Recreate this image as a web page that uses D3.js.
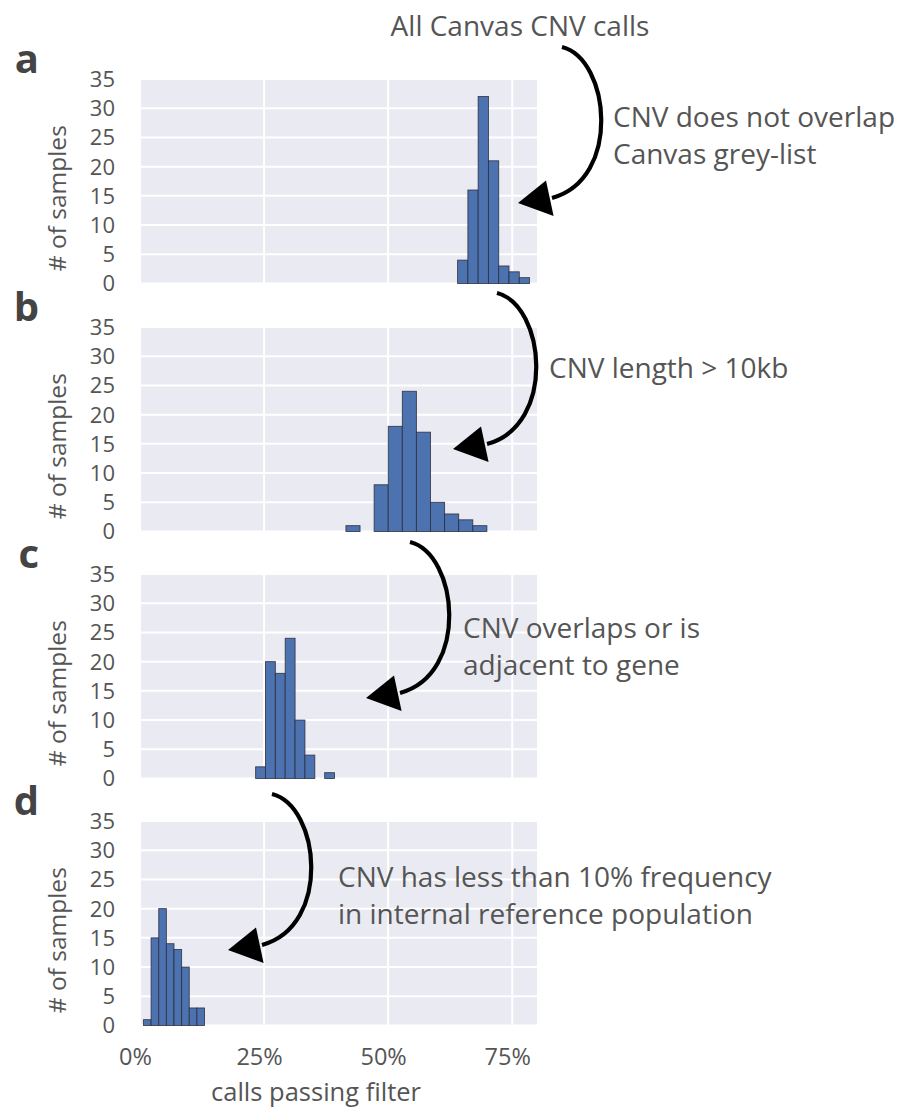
<!DOCTYPE html>
<html>
<head>
<meta charset="utf-8">
<script src="https://cdn.jsdelivr.net/npm/d3@7"></script>
<style>
  html, body { margin: 0; padding: 0; background: #fff; }
  svg { display: block; }
  text { font-family: "Open Sans", "Noto Sans", sans-serif; }
</style>
</head>
<body>
<svg id="chart" width="903" height="1107"></svg>
<script>
// Histogram of the fraction of CNV calls passing each successive filter.
// Each panel: letter, bin range [lo, hi] (fraction of calls), per-bin sample counts.
const panelLetters = ["a", "b", "c", "d"];
const binRanges = [
  [0.640, 0.785],
  [0.415, 0.699],
  [0.233, 0.392],
  [0.007, 0.130]
];
const countsA = [4, 16, 32, 21, 3, 2, 1];
const countsB = [1, 0, 8, 18, 24, 17, 5, 3, 2, 1];
const countsC = [2, 20, 18, 24, 10, 4, 0, 1];
const countsD = [1, 15, 20, 14, 13, 10, 3, 3];
const panelCounts = [countsA, countsB, countsC, countsD];

const yTicks = [0, 5, 10, 15, 20, 25, 30, 35];
const xTicks = [0, 0.25, 0.5, 0.75];
const xDomain = [0, 0.8];
const yDomain = [0, 35];

// Filter step descriptions, one per arrow (a text block may span two lines)
const stepLabels = [
  ["All Canvas CNV calls"],
  ["CNV does not overlap", "Canvas grey-list"],
  ["CNV length > 10kb"],
  ["CNV overlaps or is", "adjacent to gene"],
  ["CNV has less than 10% frequency", "in internal reference population"]
];

const svg = d3.select("#chart");
const plotLeft = 140, plotRight = 537, plotH = 204.5;
const panelTops = [79, 327, 574, 821];
const textGrey = "#555";

const x = d3.scaleLinear().domain(xDomain).range([plotLeft, plotRight]);

panelLetters.forEach((letter, i) => {
  const top = panelTops[i];
  const y = d3.scaleLinear().domain(yDomain).range([top + plotH, top]);
  const g = svg.append("g");

  // background
  g.append("rect")
    .attr("x", plotLeft).attr("y", top)
    .attr("width", plotRight - plotLeft).attr("height", plotH)
    .attr("fill", "#eaeaf2");

  // gridlines
  g.append("g").selectAll("line").data(yTicks).join("line")
    .attr("x1", plotLeft).attr("x2", plotRight)
    .attr("y1", d => y(d)).attr("y2", d => y(d))
    .attr("stroke", "#fff").attr("stroke-width", 2);
  g.append("g").selectAll("line").data(xTicks).join("line")
    .attr("x1", d => x(d)).attr("x2", d => x(d))
    .attr("y1", top).attr("y2", top + plotH)
    .attr("stroke", "#fff").attr("stroke-width", 2);

  // histogram bars
  const counts = panelCounts[i];
  const [lo, hi] = binRanges[i];
  const w = (hi - lo) / counts.length;
  const bins = counts.map((c, k) => ({ x0: lo + k * w, x1: lo + (k + 1) * w, n: c }));
  g.append("g").selectAll("rect").data(bins).join("rect")
    .attr("x", d => x(d.x0))
    .attr("width", d => x(d.x1) - x(d.x0))
    .attr("y", d => y(d.n))
    .attr("height", d => y(0) - y(d.n))
    .attr("fill", "#4c72b0")
    .attr("stroke", "#2a2a3a")
    .attr("stroke-opacity", 0.85)
    .attr("stroke-width", 0.9);

  // y axis tick labels
  const yAxis = d3.axisLeft(y).tickValues(yTicks).tickSize(0).tickPadding(0);
  const ya = g.append("g").attr("transform", `translate(115,0)`).call(yAxis);
  ya.select(".domain").remove();
  ya.selectAll("text")
    .attr("fill", textGrey)
    .style("font-size", "22px")
    .attr("x", 0).attr("dy", "0.34em");

  // y axis title
  g.append("text")
    .attr("transform", `translate(66,${top + plotH / 2 + 17}) rotate(-90)`)
    .attr("text-anchor", "middle")
    .attr("fill", textGrey)
    .style("font-size", "24.5px")
    .text("# of samples");

  // panel letter
  g.append("text")
    .attr("x", 39).attr("y", top - 6)
    .attr("text-anchor", "end")
    .attr("fill", "#444")
    .style("font-size", "40px")
    .style("font-weight", "bold")
    .text(letter);

  // x axis on the bottom panel only
  if (i === panelLetters.length - 1) {
    const xAxis = d3.axisBottom(x).tickValues(xTicks).tickFormat(d3.format(".0%")).tickSize(0).tickPadding(0);
    const xa = g.append("g").attr("transform", `translate(-5,${top + plotH})`).call(xAxis);
    xa.select(".domain").remove();
    xa.selectAll("text")
      .attr("fill", textGrey)
      .style("font-size", "23.5px")
      .attr("y", 39).attr("dy", 0);
    g.append("text")
      .attr("x", 316).attr("y", 1101)
      .attr("text-anchor", "middle")
      .attr("fill", textGrey)
      .style("font-size", "25.5px")
      .text("calls passing filter");
  }
});

// curved arrows between panels; each drawn from its start point
const arrowStarts = [[562, 47], [497, 293], [410, 542], [272, 794]];
const arrowG = svg.append("g");
arrowStarts.forEach(([sx, sy]) => {
  const a = arrowG.append("g").attr("transform", `translate(${sx},${sy})`);
  a.append("path")
    .attr("d", "M0,0 C48,12 60,132 -10,151")
    .attr("fill", "none")
    .attr("stroke", "#000")
    .attr("stroke-width", 4.2);
  a.append("path")
    .attr("d", "M-44,156 L-16,133.5 L-8.4,169 Z")
    .attr("fill", "#000");
});

// step descriptions
const labelPos = [
  { x: 520, y: 36, anchor: "middle" },
  { x: 613, y: 127, anchor: "start" },
  { x: 549, y: 378, anchor: "start" },
  { x: 463, y: 638, anchor: "start" },
  { x: 338, y: 887, anchor: "start" }
];
stepLabels.forEach((lines, i) => {
  const p = labelPos[i];
  const t = svg.append("text")
    .attr("x", p.x).attr("y", p.y)
    .attr("text-anchor", p.anchor)
    .attr("fill", textGrey)
    .style("font-size", "28px");
  lines.forEach((line, k) => {
    t.append("tspan").attr("x", p.x).attr("dy", k === 0 ? 0 : 36.5).text(line);
  });
});
</script>
</body>
</html>
